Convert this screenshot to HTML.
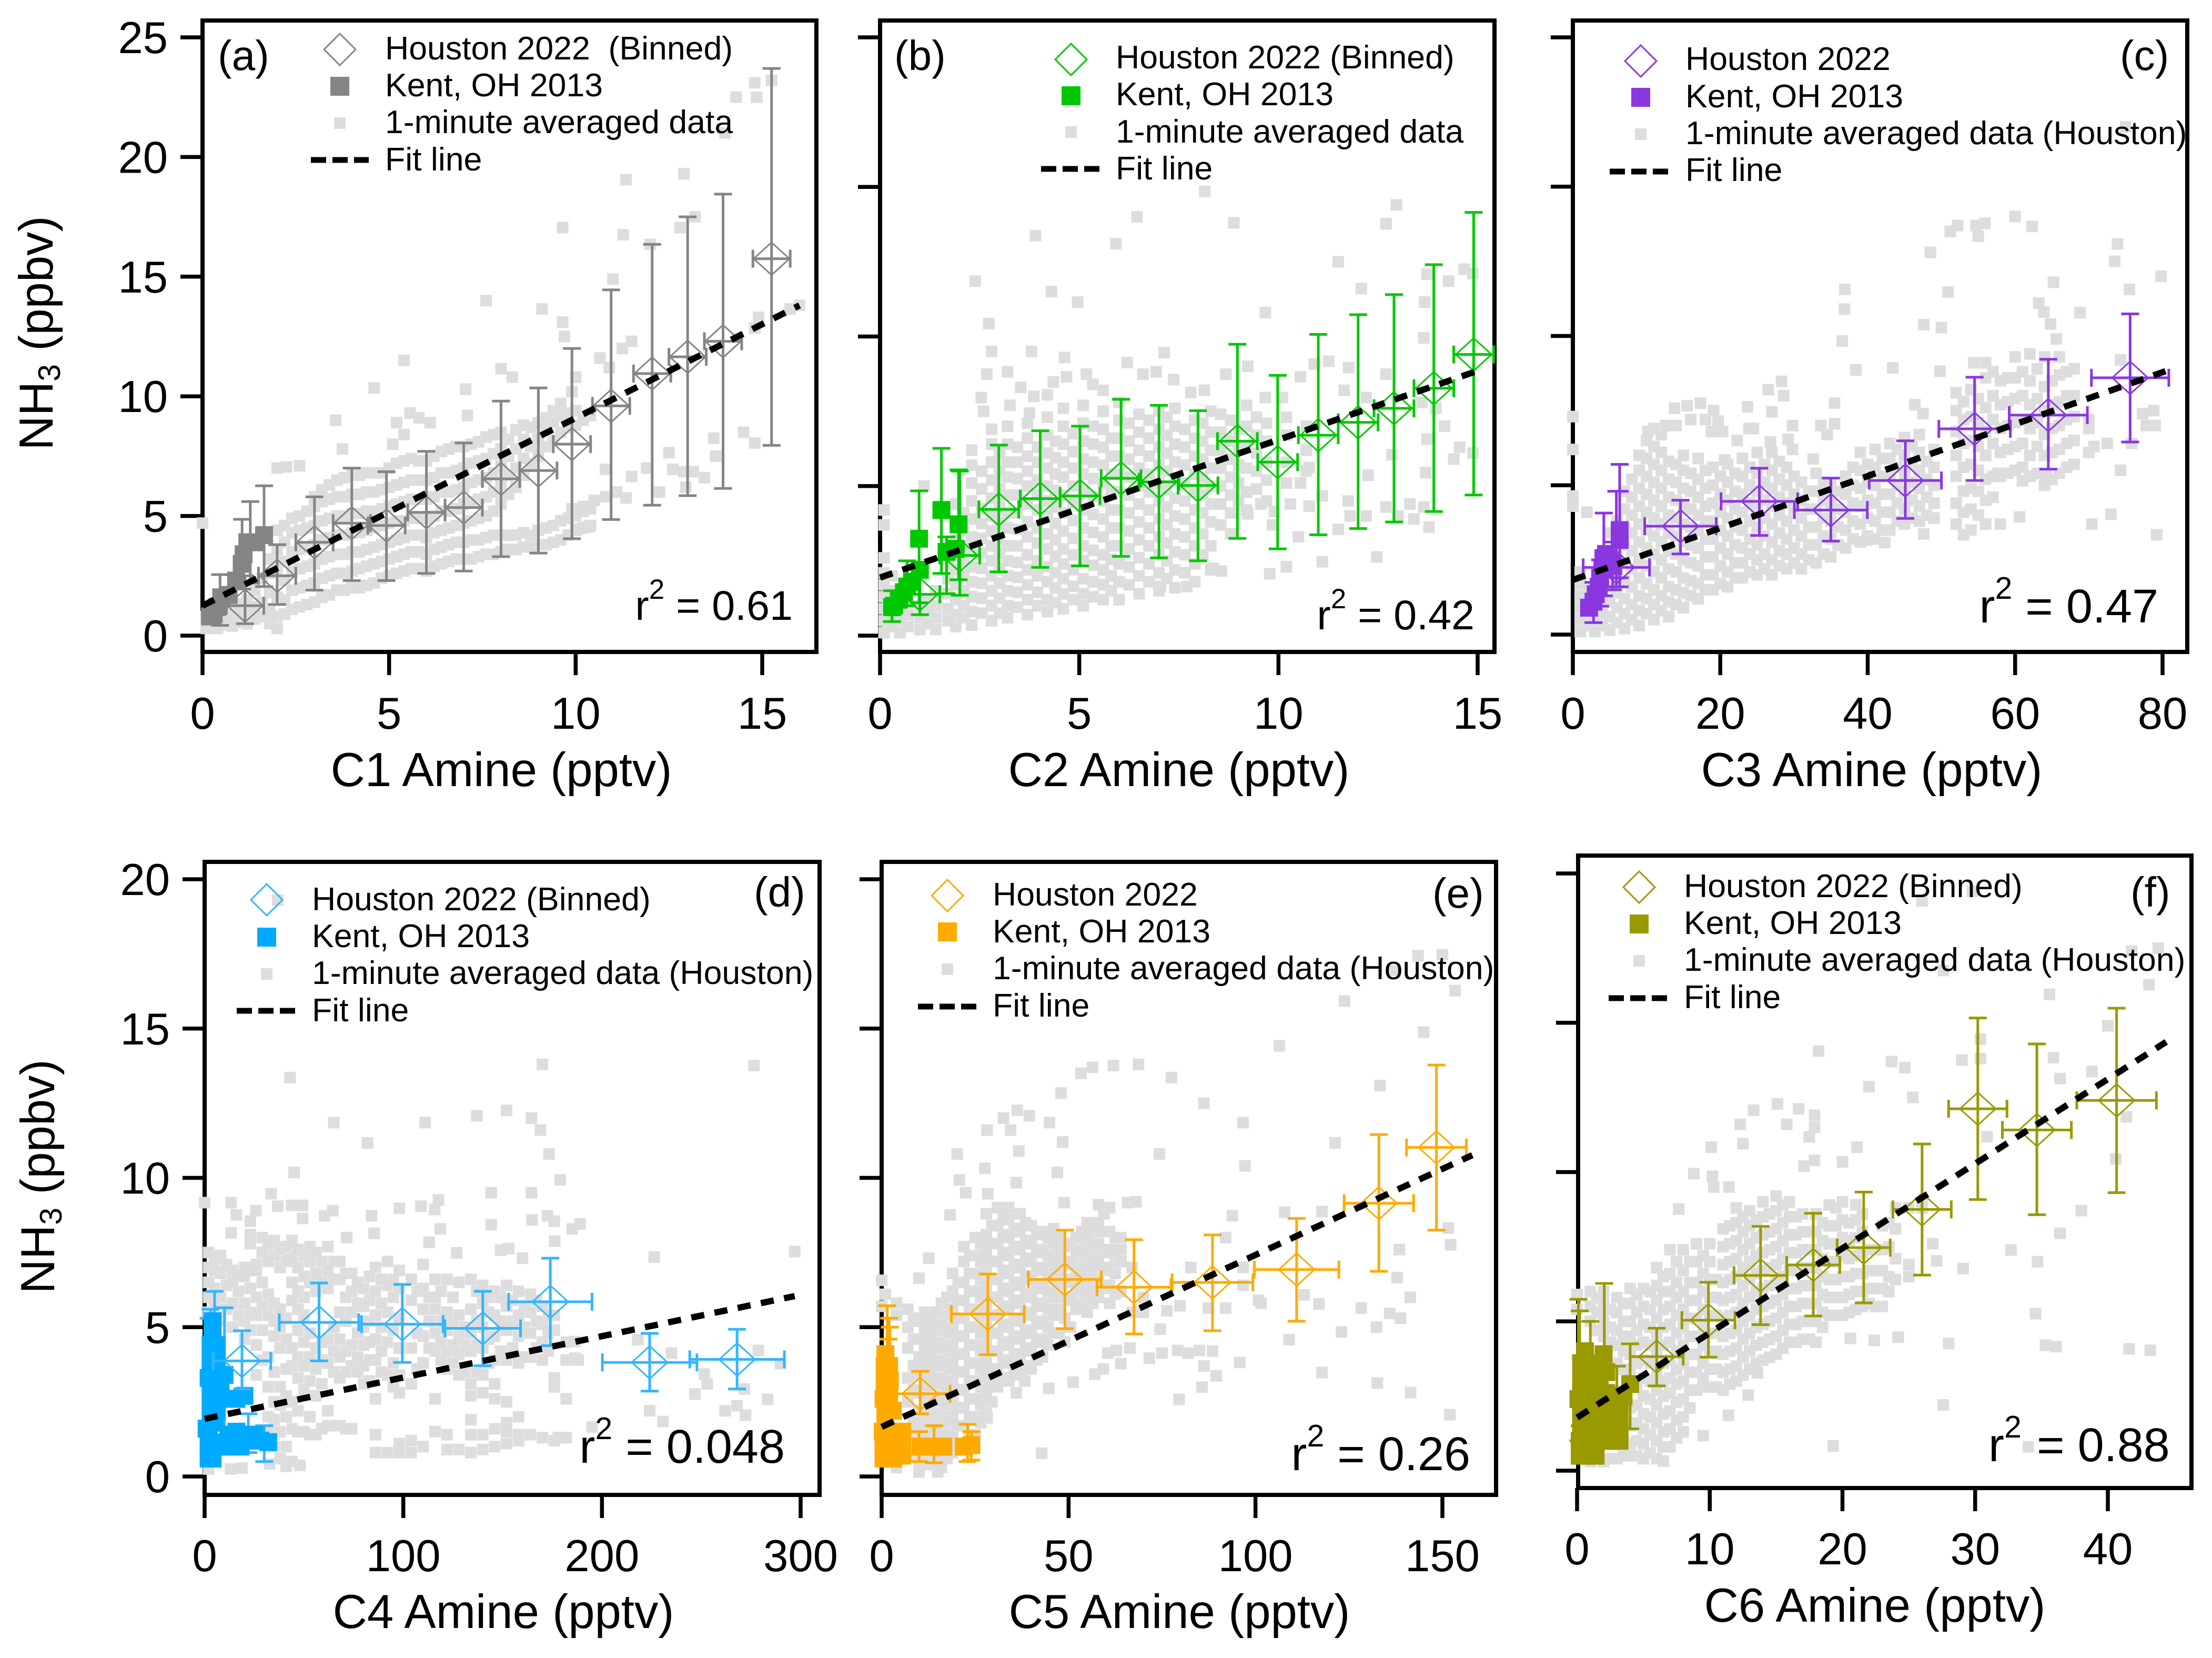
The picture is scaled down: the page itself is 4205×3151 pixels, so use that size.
<!DOCTYPE html>
<html lang="en">
<head>
<meta charset="utf-8">
<title>NH3 versus amines scatter panels</title>
<style>
html,body{margin:0;padding:0;background:#fff}
svg{display:block}
text{font-family:"Liberation Sans",sans-serif;fill:#000;white-space:pre}
.leg{font-size:62.6px}
.ttl{font-size:90.5px}
.lab{font-size:80px}
</style>
</head>
<body>
<svg id="chart" xmlns="http://www.w3.org/2000/svg" width="4205" height="3151" viewBox="0 0 4205 3151">
<rect x="0" y="0" width="4205" height="3151" fill="#fff"/>
<g id="marks"></g>

<g>
<text class="lab" x="414" y="133">(a)</text>
<text class="ttl" x="953" y="1494" text-anchor="middle">C1 Amine (pptv)</text>
<text class="ttl" transform="translate(100,633) rotate(-90)" text-anchor="middle">NH<tspan dy="14" font-size="59">3</tspan><tspan dy="-14"> (ppbv)</tspan></text>
<text font-size="79" x="1507" y="1178" text-anchor="end">r<tspan dy="-40" font-size="53">2</tspan><tspan dy="40"> = 0.61</tspan></text>
<polygon points="646,64 676,94 646,124 616,94" fill="none" stroke="#858585" stroke-width="3"/>
<rect x="628" y="146" width="36" height="36" fill="#858585"/>
<rect x="635" y="223" width="22" height="22" fill="#dddddd"/>
<line x1="591" y1="304" x2="701" y2="304" stroke="#000" stroke-width="11" stroke-dasharray="29 12"/>
<text class="leg" x="732" y="113">Houston 2022  (Binned)</text>
<text class="leg" x="732" y="183">Kent, OH 2013</text>
<text class="leg" x="732" y="253">1-minute averaged data</text>
<text class="leg" x="732" y="324">Fit line</text>
</g>

<g>
<text class="lab" x="1700" y="133">(b)</text>
<text class="ttl" x="2241" y="1494" text-anchor="middle">C2 Amine (pptv)</text>
<text font-size="79" x="2803" y="1196" text-anchor="end">r<tspan dy="-40" font-size="53">2</tspan><tspan dy="40"> = 0.42</tspan></text>
<polygon points="2036,83 2066,113 2036,143 2006,113" fill="none" stroke="#00c800" stroke-width="3"/>
<rect x="2018" y="164" width="36" height="36" fill="#00c800"/>
<rect x="2025" y="240" width="22" height="22" fill="#dddddd"/>
<line x1="1979" y1="321" x2="2091" y2="321" stroke="#000" stroke-width="11" stroke-dasharray="29 12"/>
<text class="leg" x="2121" y="130">Houston 2022 (Binned)</text>
<text class="leg" x="2121" y="200">Kent, OH 2013</text>
<text class="leg" x="2121" y="271">1-minute averaged data</text>
<text class="leg" x="2121" y="341">Fit line</text>
</g>

<g>
<text class="lab" x="4030" y="133">(c)</text>
<text class="ttl" x="3558" y="1494" text-anchor="middle">C3 Amine (pptv)</text>
<text font-size="90" x="4103" y="1183" text-anchor="end">r<tspan dy="-45" font-size="59">2</tspan><tspan dy="45"> = 0.47</tspan></text>
<polygon points="3119,86 3149,116 3119,146 3089,116" fill="none" stroke="#8a37e0" stroke-width="3"/>
<rect x="3101" y="167" width="36" height="36" fill="#8a37e0"/>
<rect x="3108" y="244" width="22" height="22" fill="#dddddd"/>
<line x1="3060" y1="326" x2="3173" y2="326" stroke="#000" stroke-width="11" stroke-dasharray="29 12"/>
<text class="leg" x="3204" y="133">Houston 2022</text>
<text class="leg" x="3204" y="204">Kent, OH 2013</text>
<text class="leg" x="3204" y="274">1-minute averaged data (Houston)</text>
<text class="leg" x="3204" y="344">Fit line</text>
</g>

<g>
<text class="lab" x="1433" y="1723">(d)</text>
<text class="ttl" x="957" y="3094" text-anchor="middle">C4 Amine (pptv)</text>
<text class="ttl" transform="translate(103,2236) rotate(-90)" text-anchor="middle">NH<tspan dy="14" font-size="59">3</tspan><tspan dy="-14"> (ppbv)</tspan></text>
<text font-size="90" x="1492" y="2780" text-anchor="end">r<tspan dy="-45" font-size="59">2</tspan><tspan dy="45"> = 0.048</tspan></text>
<polygon points="507,1680 537,1710 507,1740 477,1710" fill="none" stroke="#33b5ff" stroke-width="3"/>
<rect x="489" y="1763" width="36" height="36" fill="#00aaff"/>
<rect x="496" y="1840" width="22" height="22" fill="#dddddd"/>
<line x1="450" y1="1921" x2="563" y2="1921" stroke="#000" stroke-width="11" stroke-dasharray="29 12"/>
<text class="leg" x="593" y="1730">Houston 2022 (Binned)</text>
<text class="leg" x="593" y="1800">Kent, OH 2013</text>
<text class="leg" x="593" y="1870">1-minute averaged data (Houston)</text>
<text class="leg" x="593" y="1941">Fit line</text>
</g>

<g>
<text class="lab" x="2723" y="1725">(e)</text>
<text class="ttl" x="2242" y="3094" text-anchor="middle">C5 Amine (pptv)</text>
<text font-size="90" x="2795" y="2794" text-anchor="end">r<tspan dy="-45" font-size="59">2</tspan><tspan dy="45"> = 0.26</tspan></text>
<polygon points="1801,1672 1831,1702 1801,1732 1771,1702" fill="none" stroke="#ffaa00" stroke-width="3"/>
<rect x="1783" y="1753" width="36" height="36" fill="#ffaa00"/>
<rect x="1790" y="1831" width="22" height="22" fill="#dddddd"/>
<line x1="1745" y1="1913" x2="1857" y2="1913" stroke="#000" stroke-width="11" stroke-dasharray="29 12"/>
<text class="leg" x="1887" y="1721">Houston 2022</text>
<text class="leg" x="1887" y="1791">Kent, OH 2013</text>
<text class="leg" x="1887" y="1861">1-minute averaged data (Houston)</text>
<text class="leg" x="1887" y="1932">Fit line</text>
</g>

<g>
<text class="lab" x="4050" y="1723">(f)</text>
<text class="ttl" x="3564" y="3082" text-anchor="middle">C6 Amine (pptv)</text>
<text font-size="90" x="3780" y="2777">r<tspan dy="-45" font-size="59">2</tspan><tspan dy="45" x="3872">= 0.88</tspan></text>
<polygon points="3116,1656 3146,1686 3116,1716 3086,1686" fill="none" stroke="#999900" stroke-width="3"/>
<rect x="3098" y="1738" width="36" height="36" fill="#999900"/>
<rect x="3105" y="1815" width="22" height="22" fill="#dddddd"/>
<line x1="3058" y1="1897" x2="3172" y2="1897" stroke="#000" stroke-width="11" stroke-dasharray="29 12"/>
<text class="leg" x="3201" y="1705">Houston 2022 (Binned)</text>
<text class="leg" x="3201" y="1775">Kent, OH 2013</text>
<text class="leg" x="3201" y="1845">1-minute averaged data (Houston)</text>
<text class="leg" x="3201" y="1916">Fit line</text>
</g>
</svg>

<script>
/* ---------- tick values and labels ---------- */
const xTicksA=[0,5,10,15];
const xLabelsA=['0','5','10','15'];
const yTicksA=[0,5,10,15,20,25];
const yLabelsA=['0','5','10','15','20','25'];
const xTicksB=[0,5,10,15];
const xLabelsB=['0','5','10','15'];
const xTicksC=[0,20,40,60,80];
const xLabelsC=['0','20','40','60','80'];
const xTicksD=[0,100,200,300];
const xLabelsD=['0','100','200','300'];
const yTicks20=[0,5,10,15,20];
const yLabelsD=['0','5','10','15','20'];
const xTicksE=[0,50,100,150];
const xLabelsE=['0','50','100','150'];
const xTicksF=[0,10,20,30,40];
const xLabelsF=['0','10','20','30','40'];

/* ---------- gray 1-minute data: each row is [x, y, y, ...] ---------- */
const grayA=[[15.25,23.2],[14.8,23.1],[14.85,22.5],[14.3,22.5],[14,21],[12.9,19.3],[11.35,19.05],[9.65,17.05],[11.27,16.75],[13.2,17.5],[12.8,17.05],[12,16.35],[7.6,14],[9.1,13.65],[11,14.9],[9.65,13.1],[9.7,12.5],[11.5,12.3],[11.25,12],[10.65,11.6],[10.9,11.2],[5.4,11.5],[4.6,10.35],[8,11.15],[8.3,10.8],[7.05,10.3],[7.1,9.2],[10,10.8],[9.9,10.2],[3.57,9],[3.75,7.8],[2,7],[2.25,7.05],[2.6,7.1],[0,4.7],[16,13.8],[15.75,13.65],[14.9,13.3],[14.8,12.85],[14.5,8.5],[14.8,8.05],[13.7,8.25],[13.75,7.5],[12.5,7.65],[11.9,7],[12.6,6.95],[12.9,6.85],[13.15,6.85],[13.45,6.6],[11.5,6.65],[10.8,6.95],[11.35,5.75],[12.25,6],[12.95,6.2],[9.9,5.3],[10.2,5.4],[10.5,5.65],[10.8,5.8],[11.1,6],[10.35,4.55],[10.05,4.45],[5.2,8.9],[5.56,9.3],[5.8,9.1],[6.1,8.9],[5.4,8.4],[5.1,8],
[0.1,.3,.5,.8],[0.4,.3,.6,.9],[0.8,.4,.7,1.2],[1.2,.5,1,1.5],[1.6,.8,1.4,2.4],[2,.3,.8,1.6,2.8,3.6,4.4],[2.4,1.1,1.9,2.7,3.5,4.3,4.9],[2.8,1.3,2.1,2.9,3.7,4.5,5.2],[3.2,1.6,2.4,3.2,4,4.8,5.6,6.1],[3.6,1.9,2.6,3.4,4.2,5,5.8,6.5],[4,2,2.7,3.5,4.3,5.1,5.9,6.7],[4.4,2.1,2.9,3.6,4.4,5.2,6,6.8],[4.8,2.4,3.1,3.8,4.6,5.3,6.1,6.8],[5.2,2.6,3.3,4,4.8,5.5,6.3,7.2],[5.6,2.8,3.5,4.2,4.9,5.7,6.5,7.4],[6,2.7,3.4,4.1,4.9,5.7,6.5,7.3],[6.4,3,3.7,4.4,5.2,6,6.8,7.7],[6.8,3.2,3.9,4.6,5.3,6.1,6.9,7.9],[7.2,3.2,4,4.8,5.6,6.4,7.2,8],[7.6,3.4,4.1,5,5.8,6.6,7.4,8.3],[8,3.5,4.2,5.5,6.3,7.1,7.8,8.5],[8.4,3.6,4.2,6.2,7,7.8,8.6],[8.8,3.7,4.2,7.2,7.9,8.7],[9.2,3.8,4.5,7.9,8.6,9.1],[9.6,4,4.8,8.5,9.2,9.7],[10,4.4,5,8.8,9.4],[10.4,4.6,5.3,9.2]];
const denseA=[[.3,.4,.7],[.6,.45,.75],[1,.55,.95,1.35],[1.4,.7,1.2,1.9],[1.8,.5,1,1.8,2.6,3.2],[2.2,.9,1.5,2.3,3.1,3.9,4.6],[2.6,1.2,2,2.8,3.6,4.4,5],[3,1.4,2.2,3,3.8,4.6,5.4,5.8],[3.4,1.7,2.5,3.3,4.1,4.9,5.7,6.3],[3.8,1.9,2.6,3.4,4.2,5,5.8,6.6],[4.2,2,2.8,3.5,4.3,5.1,5.9,6.7],[4.6,2.2,3,3.7,4.5,5.2,6,6.8],[5,2.5,3.2,3.9,4.7,5.4,6.2,7],[5.4,2.7,3.4,4.1,4.8,5.6,6.4,7.3],[5.8,2.8,3.5,4.2,4.9,5.7,6.5,7.3],[6.2,2.9,3.6,4.3,5,5.8,6.6,7.5],[6.6,3.1,3.8,4.5,5.2,6,6.8,7.8],[7,3.2,3.9,4.7,5.5,6.2,7,7.9],[7.4,3.3,4,4.9,5.7,6.5,7.3,8.1],[7.8,3.4,4.2,5.2,6,6.8,7.6,8.4],[8.2,3.6,4.2,5.9,6.7,7.5,8.2],[8.6,3.7,4.3,6.7,7.4,8.2,8.8],[9,3.8,4.4,7.5,8.2,8.9],[9.4,3.9,4.6,8.2,8.9,9.4],[9.8,4.2,4.9,8.7,9.3],[10.2,4.5,5.2,9]];

const grayB=[[8.15,14.85],[6.45,14],[8.88,13.8],[12.96,14.4],[12.7,13.77],[3.9,13.37],[5.92,13.1],[11.5,12.5],[2.39,11.85],[4.3,11.5],[4.96,11.15],[2.73,10.43],[12.08,11.6],[9.67,10.8],[13.73,12.08],[14.66,12.25],[14.88,12.1],[14.27,11.85],[13.67,11.15],[13.65,9.95],[2.8,9.5],[3.8,9.5],[4.63,9.3],[6.2,9.13],[7.13,9.46],[2.68,8.74],[3.2,8.82],[3.53,8.3],[4.35,8.48],[4.68,8.65],[5.18,8.74],[5.34,8.4],[5.6,8.2],[3.86,8],[4.2,8.05],[2.54,7.96],[2.6,7.5],[3.26,7.7],[3.75,7.44],[6.6,8.74],[6.93,8.82],[7.37,8.56],[7.8,8.13],[8.14,8.2],[8.68,8.74],[9.23,9],[9.67,7.96],[10.1,7.96],[10.55,8.65],[10.9,9.08],[11.26,9.17],[11.76,8.96],[11.65,8.2],[12.7,8.74],[12.2,7.96],[14.17,7],[13.6,7.8],[13.95,7.6],[13.73,6.57],[14.55,6.3],[14.88,6.1],[14.4,5.9],[12.85,6.05],[13.7,5.45],[12.25,5.36],[10.77,5.62],[10.55,5.1],[13.3,4.4],[13.65,4.3],[13.78,3.63],[13.4,3.9],[12.7,4.3],[13,4],[11.75,4.5],[11.8,4],[12.2,4],[11.5,3.55],[12.47,2.63],[11.1,2.47],[10.2,2.3],[9.78,2.07],[10.5,3.3],[11.1,4.67],[10.77,4.33],[10.3,4.4],[9.9,4.15],[9.56,4.4],[9.23,4.07],[9.85,3.7],[8.57,2.16],[8.36,2.25],[7.7,1.64],[7.04,1.64],[1.1,5],
[.1,.1,.5,.9,1.3,1.7,2.1,2.6,3.7,4.2],[.5,.1,.5,.9,1.3],[1,.2,.6,1],[1.4,.2,.6,1,1.5],[1.9,.3,.7,1.2,1.7,2.2,2.7,3.2,3.8,4.4],[2.3,.35,.8,1.3,1.8,2.3,2.8,3.3,3.9,4.5,5.1,5.7,6.2],[2.8,.5,1,1.5,2,2.5,3,3.5,4,4.6,5.2,5.8,6.4,6.9],[3.2,.6,1,1.5,2,2.5,3,3.6,4.1,4.7,5.3,5.8,6.4,7],[3.7,.7,1.2,1.7,2.2,2.7,3.3,3.8,4.4,5,5.5,6,6.6,7.1],[4.2,.8,1.2,1.8,2.3,2.9,3.4,4,4.5,5,5.6,6.1,6.7,7.3],[4.6,.9,1.4,1.9,2.4,2.9,3.5,4.1,4.7,5.3,5.8,6.4,7,7.6],[5.1,1,1.4,1.9,2.5,3,3.6,4.2,4.8,5.4,5.9,6.5,7.1,7.7],[5.6,1.2,1.7,2.2,2.7,3.3,3.9,4.5,5.1,5.7,6.3,6.9,7.5],[6,1.2,1.8,2.4,3,3.6,4.2,4.8,5.4,6,6.6,7.2,7.8],[6.5,1.4,2,2.6,3.2,3.8,4.4,5,5.6,6.2,6.8,7.4],[7,1.5,2.1,2.7,3.3,3.9,4.5,5.1,5.7,6.3,6.9,7.5],[7.4,1.6,2.2,2.8,3.4,4,4.6,5.2,5.8,6.4,7,7.6],[7.9,1.8,2.4,3,3.6,4.2,4.8,5.4,6,6.6,7.2],[8.3,2.2,3,3.8,4.4,5,5.6,6.2,6.8,7.5],[8.8,3.4,4.1,4.7,5.3,5.9,6.5,7.2],[9.2,4.2,4.8,5.6,6.3,7,7.7],[9.7,4.5,5.2,5.8,6.5,7.1],[10.2,5.1,5.8,6.7,7.3],[10.7,5.5,6.2,7]];
const denseB=[[.3,.3,.7,1.1,1.5,2],[.7,.3,.7,1.1],[1.2,.4,.8,1.2],[1.7,.5,.9,1.4,1.9,2.4,2.9],[2.1,.6,1,1.5,2,2.5,3,3.5,4.1],[2.55,.75,1.25,1.75,2.25,2.75,3.25,3.75,4.25,4.9,5.5],[3,.75,1.25,1.75,2.25,2.75,3.25,3.75,4.3,4.9,5.5,6.1],[3.45,.95,1.45,1.95,2.45,3,3.55,4.1,4.7,5.25,5.8,6.3],[3.95,1,1.45,2,2.5,3.1,3.6,4.2,4.7,5.2,5.8,6.3],[4.4,1.1,1.6,2.1,2.65,3.2,3.75,4.3,4.85,5.4,5.95,6.5],[4.85,1.2,1.65,2.2,2.7,3.25,3.85,4.45,5,5.6,6.15,6.75],[5.35,1.3,1.8,2.35,2.85,3.45,4.05,4.65,5.25,5.8,6.4,7],[5.8,1.5,2,2.55,3,3.6,4.2,4.8,5.4,6,6.6],[6.25,1.7,2.3,2.9,3.5,4.1,4.7,5.3,5.9,6.5,7.1],[6.75,1.8,2.4,3,3.6,4.2,4.8,5.4,6,6.6,7.2],[7.2,1.9,2.5,3.1,3.7,4.3,4.9,5.5,6.1,6.7,7.3],[7.65,2.1,2.7,3.3,3.9,4.5,5.1,5.7,6.3,6.9],[8.1,2.7,3.4,4.1,4.7,5.3,5.9,6.5,7.1],[8.55,3.7,4.4,5,5.6,6.2,6.8,7.4],[9,4.5,5.1,5.7,6.3,6.9],[9.45,4.9,5.5,6.1,6.7,7.3]];

const grayC=[[75,17],[60,14],[62.3,13.67],[55.9,13.77],[54.7,13.7],[55,13.34],[52.2,13.7],[51.2,13.5],[48.5,12.8],[73.9,13.08],[73.5,12.5],[79.8,12],[75.5,11.56],[65.2,11.8],[36.9,11.56],[36.85,10.9],[50.9,11.47],[63.2,11.1],[63.9,10.8],[68.8,10.78],[64.8,10.4],[47.6,10.38],[50,10.28],[36.55,9.83],[65.6,9.9],[38.4,8.86],[43.4,8.93],[49.8,8.82],[0,7.3],[0,6.2],[0,4.64],[0,4.3],[1.9,4.1],[28.3,8.48],[26.5,8.2],[28.6,8],[23.7,7.63],[27,7.46],[35.5,7.75],[35.5,7.06],[33.65,7],[34.5,6.7],[32.6,5.88],[46.4,7.7],[47.5,7.4],[10.2,6.8],[11,6.9],[12.6,7],[13.8,7.58],[15.5,7.66],[17.3,7.75],[19.1,7.5],[19.7,7.15],[18.8,6.8],[20.3,6.8],[20.6,5.85],[22.3,6.5],[23.9,6.9],[24.5,6.9],[26.8,6.45],[29.2,6.54],[29.8,7],[29.8,6.2],[14,7],[16,7.2],[18,7.2],[54.4,9.1],[75.8,6.4],[74.3,5.5],[72.5,6.4],[70.7,6.3],[77.3,7.4],[78.8,7.5],[79,7],[77.8,7],[74.3,9.2],[60.6,3.94],[73,4.03],[70.4,3.7],[79.2,3.34],[64.2,5.33],[61,5.15],[57.7,5.4],[53,3.34],[47.6,3.37],[42.3,3.08],[39.9,3.17],
[1,.1,.5,.9,1.3,1.7,2.1],[3,.1,.5,.9],[5,.15,.6,1.1,1.6,2.2,2.8,3.4],[7,.2,.7,1.2,1.8,2.4,3,3.6,4.2,4.8],[9,.3,.8,1.3,1.9,2.5,3.1,3.7,4.3,4.9,5.5,6],[11,.5,1,1.5,2.1,2.7,3.3,3.9,4.5,5.1,5.7,6.3],[13,.6,1.1,1.6,2.2,2.8,3.4,4,4.6,5.2,5.8],[15,.9,1.4,1.9,2.5,3.1,3.7,4.3,4.9,5.5,6],[17,1.2,1.7,2.3,2.9,3.5,4,4.6,5.2,5.9],[19,1.5,2,2.6,3.2,3.8,4.4,5,5.6],[21,1.6,2.1,2.7,3.3,3.9,4.5,5.1,5.7],[23,1.9,2.4,2.9,3.5,4.1,4.7,5.3,5.9],[25,2,2.5,3,3.6,4.2,4.8,5.4,6.1],[27,2,2.5,3.1,3.7,4.3,4.9,5.5,6.1],[29,2.2,2.7,3.2,3.8,4.4,5,5.6],[31,2.2,2.7,3.3,3.9,4.5,5.1],[33,2.4,3,3.6,4.2,4.8,5.4],[35,2.6,3.2,3.8,4.4,5],[37,2.9,3.5,4.1,4.7,5.3],[39,3.1,3.7,4.3,4.9,5.5,6.1],[41,3.2,3.8,4.4,5,5.6,6.2],[43,3.5,4.1,4.7,5.3,5.9,6.4],[45,3.7,4.2,4.8,5.4,6,6.6],[47,3.8,4.3,4.9,5.5,6.1,6.7],[49,3.9,4.4,5,5.6,6.2],[52,3.7,4.4,5.3,6,6.8,7.5,8.1],[54,3.5,4.2,4.9,5.7,6.5,7.3,8.2],[56,3.7,4.5,5.2,6,6.8,7.6,8.6,9.1],[58,3.7,5.3,6.1,6.9,7.7,8.5],[60,5.5,6.3,7.1,7.9,8.6,9.3],[62,5.3,6,6.9,7.7,8.5,9.4],[64,5,6,6.7,7.5,8.3,9.3],[66,5.4,6.2,7,7.8,8.7,9.3],[68,5.7,6.5,7.3,8,8.9],[70,6.1,6.9,7.2]];
const denseC=[[2,.3,.7,1.1,1.5],[4,.3,.7,1.2,1.8],[6,.4,.9,1.4,2,2.6,3.2,3.8],[8,.5,1,1.6,2.2,2.8,3.4,4,4.6,5.2],[10,.7,1.2,1.7,2.3,2.9,3.5,4.1,4.7,5.3,5.9,6.5],[12,.8,1.3,1.9,2.5,3.1,3.7,4.3,4.9,5.5,6.1,6.7],[14,1,1.5,2.1,2.7,3.3,3.9,4.5,5.1,5.7],[16,1.3,1.8,2.4,3,3.6,4.2,4.8,5.4],[18,1.5,2,2.6,3.2,3.8,4.3,4.9,5.5],[20,1.7,2.3,2.9,3.5,4.1,4.7,5.3],[22,1.9,2.4,3,3.6,4.2,4.8,5.4],[24,2.1,2.7,3.2,3.8,4.4,5,5.6],[26,2.2,2.7,3.3,3.9,4.5,5.1,5.7],[28,2.3,2.8,3.4,4,4.6,5.2,5.8],[30,2.4,2.9,3.5,4.1,4.7,5.3],[32,2.5,3,3.6,4.2,4.8],[34,2.7,3.3,3.9,4.5,5.1],[36,3,3.6,4.2,4.8],[38,3.2,3.8,4.4,5,5.6],[40,3.3,3.9,4.5,5.1,5.7],[42,3.5,4.1,4.7,5.3,5.9],[44,3.8,4.4,5,5.6,6.2],[46,3.9,4.5,5.1,5.7,6.3],[48,4,4.6,5.2,5.8],[53,4.1,4.8,5.6,6.4,7.2,7.8],[55,4,4.8,5.5,6.3,7.1,7.9],[57,4.6,5.3,6.4,7.2,8,8.8],[59,5.4,6.2,7,7.8,8.6],[61,5.6,6.4,7.2,8,8.8],[63,5.4,6.3,7.1,7.9,8.9],[65,5.2,6.1,6.9,7.7,8.5],[67,5.6,6.4,7.2,8,8.8]];

const grayD=[[36.8,19.3],[43,13.36],[170,13.8],[276.5,13.76],[152,12.26],[137,12.08],[164.5,12],[169,11.6],[65,11.85],[111,11.85],[82,11.17],[45,10.18],[173.4,10.8],[179,9.93],[0,9.17],[13.3,9.17],[144.3,9.5],[164.5,9.5],[117.7,9.26],[33.5,9.47],[98,8.98],[108.9,9.05],[115.8,8.94],[64.5,8.9],[60.4,8.73],[84,8.73],[16,8.76],[23,8.55],[25.8,8.9],[36.8,9.05],[43.8,9.08],[49.3,9.08],[49.3,8.64],[13.3,8.16],[85.3,8.14],[71.5,8],[113,7.84],[144.3,8.43],[118.6,8.29],[164.8,8.59],[172.6,8.73],[176,8.55],[185,8.29],[189,8.46],[176.2,7.88],[297,7.53],[226.3,7.35],[126.9,7.49],[149,7.58],[153,7.63],[160,7.31],[218,4.58],[230.7,1.84],[224,2.2],[235,4.13],[251.5,3.43],[253,3.1],[246.8,2.76],[262,2.2],[268,2.37],[272.3,2.05],[271.7,2.93],[278.7,4.22],[289.8,3.78],[283.4,2.58],[178,1.3],[195,1.66],[186.4,4.52],[186.4,3.96],[48,.37],[41,.34],[32.7,.42],[18.8,.28],[13,.25],[2,.25],
[2,5.5,6,6.5,7,7.5],[8,5.2,6,6.8,7.4],[14,6.5,6.9,5.8,5],[20,6.7,7,5.8,5.2,4.6],[26,7.1,6.9,6,5.4,4.4,3.4],[32,7.8,7.2,6.1,5.4,4,3,2,1.5],[38,7.6,7,5.6,5,4.3,3,2.4,1.5,.6],[44,7.9,7.3,6.5,5.9,4.3,3.7,2.5,1.6,.5],[50,7.4,6.7,6,5.4,4.5,3.7,2.9,1.5],[56,7.5,6.8,6.2,4.3,3.6,2.7,1.4],[62,7.7,6.9,6.3,4.6,3.8,2.2,1.7],[68,7.2,6.6,5.5,4.6,4,3.3,1.7],[74,6.8,6.2,5.5,4.4,3.7,1.6],[80,6.3,5.7,5,4.4,3.7,3.1],[86,7,6.2,5.4,4.6,3.9,2.6,1.4,.8],[92,7.2,6.4,5.5,4.5,3.4,.8],[98,6.9,6.3,5.3,4.3,3.4,2.8,1.1,.8],[104,6.6,5.9,4.3,3.1,.8,1.2],[110,7.1,6.3,5.6,4.7,3.8,1],[116,6.6,6,5.6,4.8,4.2,2.6,1.5],[122,6.6,5.5,4.9,4.2,3.6,1.4,.9],[128,6.5,5.4,4.7,4.1,3.4,.9],[134,6.6,5.6,4.8,4.2,3.1,2.7,1.9,1.4,.8],[140,6.4,5.8,5,4.3,3.4,2.8,1.4,.9],[146,6.2,5.4,4.7,3.9,3.1,2.6,1.6,1],[152,6.4,5.7,4.9,3.9,2.5,1.8,1.5,1.1],[158,6.2,5.4,4.7,3.8,2,1.4,1.2],[164,6.1,5.5,4.8,4,1.4],[170,5.7,5.1,4.5,3.9,1.3],[176,5.4,4.9,3.3,3,1.2],[182,4.5,3.9,2.6,1.3],[188,3.9]];
const denseD=[[5,5.8,6.3,6.9,7.3],[11,5.6,6.4,7.1],[17,5.4,6.2,6.7],[23,4.9,5.5,6.3,6.9,7.8,8.1],[29,3.9,4.9,5.7,6.5,7.5,8],[35,1,1.9,2.5,3.5,4.7,5.2,5.8,7.4,7.9],[41,1,2,2.7,3.6,4.6,5.3,7.2,7.7],[47,1.5,2.2,3.3,4,4.9,5.6,6.2,7,7.6],[53,1.4,2,3.2,4,4.8,6.5,7.2,7.7],[59,1.6,3.1,3.9,4.5,6.5,7.2],[65,1.7,3.5,4.2,5,6.6,7.2],[71,1.6,3.5,4.2,5.2,6,6.8],[77,3.5,4,4.8,5.8,6.5],[83,3.2,3.9,4.5,5.2,5.9,6.7],[89,3.5,4.2,5,5.8,6.6],[95,3,3.8,4.9,6,6.6],[107,3.6,4.8,6.2],[113,4.3,5.2,6],[119,3.9,4.5,5.2,6.2],[125,3.8,4.4,5.1,6],[131,3.5,4.4,5],[137,3.5,4.4,5.2,6.2],[143,3.8,4.6,5.5,6],[149,4.2,5.2,6],[155,4.3,5.2,5.9],[161,4,5,5.7],[167,4.3,5.2,5.9],[173,4.2,4.8,5.4]];

const grayE=[[150,17.47],[143.5,17.44],[137,16.94],[153.4,16.27],[123.8,15.92],[145,14.88],[106.4,14.42],[68.7,13.8],[62,13.76],[56.4,13.7],[53.3,13.5],[77.5,13.36],[133.3,13.09],[48,12.84],[86.2,12.5],[39.5,12.08],[36.3,12.26],[32.6,12],[44.9,11.85],[96.7,11.85],[28.2,11.6],[34.5,11.6],[121.3,11.17],[20.2,10.8],[36.7,10.9],[48.4,11.2],[74.3,10.8],[97.2,10.4],[27.6,10.32],[47,10.18],[20.8,9.93],[36,9.84],[22.5,9.5],[28.4,9.47],[65.8,9.17],[68,9.2],[48.8,9.17],[18.3,8.76],[93.8,8.73],[107.8,8.85],[117.8,8.87],[151.6,8.32],[152.2,7.76],[138.5,7.6],[137.9,6.66],[141.4,6],[128.3,5.64],[135.9,5.46],[138.8,5.3],[132.4,5],[123,4.84],[109,4.58],[95.8,3.82],[117.8,3.48],[132.6,3.13],[141.5,2.81],[152,2.07],[79.6,2.58],[85.7,2.99],[89.5,3.37],[42.8,.78],[28.2,1.96],[117,5.78],[113,6.08],[100.8,5.9],[101.5,5.8],[92,8],[82.7,7],[96.7,7],[96.7,6.4],[92,5.64],[87.4,5.64],[76.3,5.55],[79.8,5.72],[74.5,4.93],[12.6,7.31],[10,6.64],[0,6.57],[85,4.22],[82,4.13],[79.2,4.22],[75,4.13],[71.6,3.96],[86.2,3.7],[88.5,4.2],[62.8,4.22],[60.5,4.13],[66.4,4.3],[64,3.78],[59.3,3.6],[57,3.43],[51.2,3.16],[44.7,2.95],[38.3,3.2],[36,2.8],[30,3.1],[0,5.7],[1,6.1],[4,5.8],[15,.15],[10,.15],
[4,5.4,.3],[7,1.5,2.5,3.3,4.3,5,5.6],[10,.4,1,1.6,2.2,2.8,3.4,4,4.6,5.2],[13,.4,1,1.6,2.2,2.8,3.4,4,4.6,5.2],[16,.3,.9,1.5,2.1,2.7,3.3,3.9,4.5,5.1,5.8],[19,.8,1.4,2,2.6,3.2,3.8,4.4,5,5.6,6.2,6.8],[22,1.1,1.7,2.3,2.9,3.5,4.1,4.7,5.3,5.9,6.5,7.2,7.7],[25,1.4,2,2.6,3.2,3.8,4.4,5,5.6,6.2,6.8,7.4,8],[28,2.1,2.7,3.3,3.9,4.5,5.1,5.7,6.3,6.9,7.5,8.1,8.8],[31,3,3.6,4.2,4.8,5.4,6,6.6,7.2,7.8,8.4,9],[34,3.2,3.8,4.4,5,5.6,6.2,6.8,7.4,8,8.6,9],[37,3.4,4,4.6,5.2,5.8,6.4,7,7.6,8.2,8.8],[40,3.6,4.2,4.8,5.4,6,6.6,7.2,7.8,8.4],[43,4,4.6,5.2,5.8,6.4,7,7.6,8.2],[46,4.8,5.4,6,6.6,7.2,7.8,8.3],[49,4.5,5.3,6,6.6,7.2,7.8],[52,5.6,6.2,6.8,7.4,8],[55,5.5,6.1,6.7,7.3,7.9,8.5],[58,6,6.6,7.2,7.8,8.5,9.1],[61,5.8,6.4,7,7.6,8.2,9],[64,6.2,7.2,7.6,8],[67,7,5.5],[70,6,5.5]];
const denseE=[[8.5,.7,1.3,1.9,2.9,3.7,4.6,5.3],[11.5,.7,1.3,1.9,2.5,3.1,3.7,4.3,4.9,5.5],[14.5,.7,1.3,1.9,2.5,3.1,3.7,4.3,4.9,5.5],[17.5,.6,1.2,1.8,2.4,3,3.6,4.2,4.8,5.4,6],[20.5,1,1.7,2.3,2.9,3.5,4.1,4.7,5.3,5.9,6.5],[23.5,1.4,2,2.6,3.2,3.8,4.4,5,5.6,6.2,6.8,7.4],[26.5,1.8,2.4,3,3.6,4.2,4.8,5.4,6,6.6,7.2,7.8],[29.5,2.5,3,3.6,4.2,4.8,5.4,6,6.6,7.2,7.8,8.4],[32.5,3.3,3.9,4.5,5.1,5.7,6.3,6.9,7.5,8.1,8.7],[35.5,3.5,4.1,4.7,5.3,5.9,6.5,7.1,7.7,8.3],[38.5,3.7,4.3,4.9,5.5,6.1,6.7,7.3,7.9,8.5],[41.5,3.9,4.5,5.1,5.7,6.3,6.9,7.5,8.1],[44.5,4.4,5,5.6,6.2,6.8,7.4,8],[47.5,4.8,5.6,6.3,6.9,7.5,8.1],[50.5,5,5.9,6.5,7.1,7.7],[53.5,5.8,6.4,7,7.6,8.2],[56.5,5.8,6.4,7,7.6,8.2],[59.5,6.3,6.9,7.5,8.2,8.8],[62.5,6.1,6.8,7.4,8]];

const grayF=[[26,19.08],[29.8,19.4],[27.6,16.75],[41.8,17.4],[43.8,17.5],[43.1,16.27],[35.6,15.95],[30.4,14.45],[30.4,13.8],[29,13.75],[40,14.9],[35.9,13.83],[36.4,13.13],[38.8,13.37],[18.2,14.05],[23.7,13.7],[24.7,13.5],[22,12.86],[25.3,12.5],[41.4,11.85],[30.9,11.18],[40.6,10.44],[15.1,12.28],[13.3,12.07],[16.7,12.12],[12.3,11.6],[15.8,11.6],[17.9,11.9],[17.9,11.5],[17.5,11.18],[10.1,10.83],[12.5,10.95],[21.1,10.83],[20,10.34],[17.9,10.39],[17.1,10.2],[8.8,9.95],[10.2,9.86],[10.3,9.5],[11.45,9.5],[38,8.71],[36.4,7.95],[32.7,7.39],[29.1,6.77],[34.7,7],[26.8,7.6],[27.1,7.03],[7.66,8.76],[34.55,5.26],[35.3,4.2],[36.1,4.15],[41.6,4.08],[43.2,4.03],[28,4.26],[24.2,4.47],[22.4,4.36],[20.6,4.43],[27.6,2.2],[19.3,.83],[34,.8],[11.4,1.85],[12.9,2.53],[9.5,1.17],[6.5,.32],[13.6,3.27],
[0,5.9,5.4],[1,.3,5,5.5,6],[2,.3,4.5,5,5.6,6],[3,.4,.9,1.4,3.6,4.2,4.7,5.3,5.8],[4,.5,.9,1.5,2.1,3.3,3.9,4.5,5,5.6,6.1],[5,.4,.9,1.4,1.9,2.5,3.1,3.7,4.3,4.9,5.5,6.1],[6,.4,1,1.6,2.2,2.7,3.3,3.9,4.5,5.1,5.7,6.2,6.8],[7,.8,1.4,2,2.6,3.1,3.7,4.3,4.9,5.5,6,6.6,7.4],[8,1.3,1.8,2.4,3,3.6,4.2,4.8,5.4,6,6.7,7.4],[9,2.7,3.3,3.9,4.5,5.1,5.7,6.3,7,7.6],[10,2.8,3.4,4,4.6,5.2,5.8,6.4,7,7.6],[11,2.7,3.3,3.9,4.5,5.1,5.7,6.3,6.9,7.5,8.1],[12,3,3.5,4.1,4.7,5.3,5.9,6.5,7.1,7.7,8.3,8.8],[13,3.4,4,4.6,5.2,5.8,6.4,7,7.6,8.2,8.7],[14,3.7,4.3,4.9,5.5,6.1,6.7,7.3,7.9,8.5,9],[15,3.9,4.5,5.1,5.7,6.3,6.9,7.5,8.1,8.7,9.2],[16,4.3,4.9,5.5,6.1,6.7,7.3,7.9,8.5,9],[17,4.4,5,5.6,6.2,6.8,7.4,8,8.6],[18,4.3,5,5.6,6.2,6.8,7.4,8,8.6],[19,5.2,5.8,6.4,7,7.6,8.2,8.9],[20,5.2,5.8,6.5,7.2,7.8,8.4,9],[21,5.4,6,6.6,7.2,7.8,8.4,8.9],[22,5.6,6.1,6.7,7.4],[23,5.5,6.1,6.7,7.4,8.2],[24,6.4,7.1,8.1,8.8],[25,6.5,6.9,8.8],[26,8.8,9]];
const denseF=[[1.5,.5,.9,4.7,5.3,5.8],[2.5,.4,.9,4.3,4.8,5.4],[3.5,.5,1,1.6,3.4,4,4.5,5,5.6],[4.5,.5,1,1.6,2.2,2.8,3.6,4.2,4.7,5.3,5.9],[5.5,.6,1.2,1.8,2.4,3,3.6,4.2,4.8,5.4,6],[6.5,.8,1.3,1.9,2.5,3,3.6,4.2,4.8,5.4,6,6.5],[7.5,1.1,1.7,2.3,2.9,3.4,4,4.6,5.2,5.8,6.3,7],[8.5,2.1,2.7,3.3,3.9,4.5,5.1,5.7,6.3,7],[9.5,2.8,3.1,3.6,4.2,4.8,5.4,6,6.6,7.2],[10.5,2.8,3.4,4,4.6,5.2,5.8,6.4],[11.5,2.9,3.4,4,4.6,5.2,5.8,6.4,7,7.6,8.2],[12.5,3.2,3.8,4.4,5,5.6,6.2,6.8,7.4,8,8.5],[13.5,3.6,4.2,4.8,5.4,6,6.6,7.2,7.8,8.4],[14.5,3.8,4.4,5,5.6,6.2,6.8,7.4,8,8.6],[15.5,4.1,4.7,5.3,5.9,6.5,7.1,7.7,8.3,8.9],[16.5,4.3,4.9,5.5,6.1,6.7,7.3,7.9,8.5],[17.5,4.4,5,5.6,6.2,6.8,7.4,8],[18.5,4.8,5.3,5.9,6.5,7.1,7.7,8.3],[19.5,5.2,5.8,6.4,7,7.6,8.2,8.8],[20.5,5.3,5.9,6.5,7.1,7.7,8.3],[21.5,5.5,6,6.6,7.3,8,8.6],[22.5,5.5,6.1,6.7,7.4],[23.5,6,6.5,7.5,8.3]];

/* ---------- Kent, OH 2013 squares ---------- */
const kentXA=[.2,.25,.3,.4,.5,.7,.9,1.05,1.1,1.2,1.4,1.65];
const kentYA=[.8,1,.9,1.2,1.6,1.7,2.3,3,3.4,3.9,3.9,4.2];
const kentErrXA=[.47,1.06,1.28,1.65];
const kentErrHiA=[2.55,4.86,5.6,6.26];
const kentErrLoA=[.43,1.95,2.2,2.05];

const kentXB=[.3,.35,.47,.6,.68,.8,1,.98,1.67,1.9,1.54,1.97];
const kentYB=[.95,1,1.2,1.45,1.64,1.8,2.2,3.24,2.8,2.9,4.2,3.72];
const kentErrXB=[.3,.68,.98,1.54,1.97,1.67];
const kentErrHiB=[1.5,2.5,4.84,6.26,5.54,3.3];
const kentErrLoB=[.47,1,1.1,2.08,1.87,1.4];

const kentXC=[2.2,2.8,3.1,3.5,3.7,4,4.15,4.5,5.2,5.46,6.35,6.35];
const kentYC=[.9,1.1,1.35,1.6,1.9,2.2,2.56,2.7,2.4,2.3,3.5,3.17];
const kentErrXC=[2.8,3.7,4.2,5.4,6.35,6.35];
const kentErrHiC=[1.75,2.5,4.07,3.1,5.7,4.8];
const kentErrLoC=[.4,.95,1.3,1.5,1.6,1.9];

const kentXD=[2,4,2,4,8,2,1,5,3,6,3,6,2,5,8,12,16,20,3,6,3,6,4,4,12,16,20,24,28,32,12,18,25,10];
const kentYD=[.6,.6,1,1.1,1,1.5,1.6,1.8,2.2,2.2,2.8,2.8,3.3,3.4,3,2.6,2.6,2.7,3.9,3.8,4.4,4.4,4.9,5.2,1.4,1.5,1.3,1.2,1.2,1.15,1,1,1.4,3.4];
const kentErrXD=[2,3,5,10,22,30];
const kentErrHiD=[5.3,5.6,6.2,5.65,2.1,1.7];
const kentErrLoD=[.4,.8,1,1.4,.8,.5];

const kentXE=[.5,1.5,3,5,5.5,.5,2,4,5.5,.3,2,4,5.5,1,3,.5,2,.8,2.2,.8,2,1,10.4,13,16,16.5,22,24];
const kentYE=[.6,.6,.6,.7,.7,1,1,1,1,1.5,1.5,1.5,1.5,2,2.2,2.6,2.7,3.1,3.2,3.7,3.7,4.1,1,1,1,1,1,1.05];
const kentErrXE=[1.5,2,2.2,1.8,1,10,14,23,24];
const kentErrHiE=[5.72,5.3,5,4.6,4.2,1.5,1.7,1.75,1.5];
const kentErrLoE=[1,1,.8,.6,.5,.5,.46,.5,.55];

const kentXF=[.2,.8,1.4,.2,.8,1.4,2,2.6,.3,1,1.8,2.6,3.2,.3,1,1.7,2.4,3,.1,.8,1.5,2.2,.3,1,1.7,4,3.5,.3,1,2,.6,3.2,3.2,3.2,2.6,2.2];
const kentYF=[.5,.5,.5,1,1,1,1,1,1.5,1.5,1.5,1.5,1.5,2,2,2,2,2,2.4,2.5,2.6,2.6,3,3,3,2.9,2.5,3.6,3.6,3.9,4,1,2,2.5,2.5,3.3];
const kentErrXF=[.1,.2,1,2.05,4,3];
const kentErrHiF=[5.74,5.35,5,6.27,4.25,3.5];
const kentErrLoF=[1,1.5,.8,1.5,1.4,.76];

/* ---------- Houston 2022 binned diamonds ---------- */
const binXA=[1.14,2,3,4,4.93,6,7,8,9,9.9,10.95,12.05,13,13.95,15.25];
const binYA=[1.25,2.5,3.9,4.7,4.6,5.15,5.35,6.55,6.9,8,9.6,10.95,11.65,12.3,15.75];
const binHiA=[2.5,3.8,5.8,7,6.85,7.7,8.05,9.8,10.35,12,14.45,16.35,17.5,18.45,23.7];
const binLoA=[.5,1.3,1.9,2.3,2.3,2.6,2.7,3.3,3.45,4.05,4.85,5.45,5.85,6.15,7.95];
const binXErrA=[.5,.5,.5,.5,.5,.5,.5,.5,.5,.5,.5,.5,.5,.5,.5];

const binXB=[1,2,2.98,4.02,5.02,6.05,7,7.98,8.97,9.98,11,12,12.9,13.9,14.9];
const binYB=[1.38,2.68,4.22,4.58,4.67,5.26,5.14,5.02,6.5,5.8,6.7,7.13,7.6,8.27,9.4];
const binHiB=[2.4,5.5,6.37,6.85,7,7.9,7.7,7.52,9.74,8.7,10.07,10.73,11.4,12.4,14.15];
const binLoB=[.7,1.35,2.13,2.28,2.33,2.65,2.6,2.5,3.25,2.9,3.37,3.58,3.8,4.15,4.7];
const binXErrB=[.5,.5,.5,.5,.5,.5,.5,.5,.5,.5,.5,.5,.5,.5,.5];

const binXC=[5.9,14.6,25.3,35,45.1,54.5,64.5,75.6];
const binYC=[2.25,3.63,4.46,4.17,5.16,6.89,7.35,8.6];
const binHiC=[4.8,4.5,5.57,5.24,6.49,8.62,9.22,10.74];
const binLoC=[1.6,2.7,3.32,3.13,3.89,5.16,5.54,6.45];
const binXErrC=[4.5,4.85,5.2,4.95,4.9,4.85,5.3,5.25];

const binXD=[18.8,57.6,99.5,140,174,224,268];
const binYD=[3.87,5.16,5.1,4.96,5.85,3.82,3.92];
const binHiD=[4.88,6.48,6.43,6.2,7.31,4.79,4.93];
const binLoD=[2.93,3.87,3.82,3.71,4.38,2.86,2.93];
const binXErrD=[14.5,20,20.5,19,21,23.8,23.8];

const binXE=[10.3,28.4,49,67.5,88.5,111,133,148.4];
const binYE=[2.77,5.44,6.6,6.34,6.5,6.93,9.15,11.02];
const binHiE=[3.52,6.78,8.25,7.93,8.09,8.64,11.45,13.78];
const binLoE=[2.1,4.08,4.95,4.77,4.88,5.2,6.87,8.25];
const binXErrE=[8,9.75,9.75,9.9,10.8,11.3,9.3,8];

const binXF=[6,9.9,13.83,17.8,21.6,26,30.2,34.65,40.66];
const binYF=[3.82,5.04,6.54,6.89,7.47,8.75,12.12,11.41,12.4];
const binHiF=[4.77,6.31,8.18,8.62,9.33,10.94,15.16,14.29,15.49];
const binLoF=[2.84,3.8,4.89,5.18,5.62,6.55,9.08,8.57,9.31];
const binXErrF=[2,2,2,2,2,2.2,2.2,2.6,3];

/* ---------- fit lines ---------- */
const fitXA=[0,16];
const fitYA=[1.25,13.8];
const fitXB=[0,14.93];
const fitYB=[1.94,8.82];
const fitXC=[0,80.4];
const fitYC=[1.83,8.82];
const fitXD=[0,297];
const fitYD=[1.93,6.04];
const fitXE=[0,158];
const fitYE=[1.66,10.76];
const fitXF=[0,44.4];
const fitYF=[1.78,14.36];

/* ---------- panel layout ---------- */
const panels=[
{id:'a',l:385,t:39,r:1552,b:1239,xr:[385,1449],xd:[0,15],yr:[1208,71],yd:[0,25],labelY:1385,color:'#858585',kentColor:'#858585',xt:xTicksA,xl:xLabelsA,yt:yTicksA,yl:yLabelsA,gray:grayA.concat(denseA),kx:kentXA,ky:kentYA,ex:kentErrXA,eh:kentErrHiA,el:kentErrLoA,bx:binXA,by:binYA,bh:binHiA,bl:binLoA,be:binXErrA,fx:fitXA,fy:fitYA},
{id:'b',l:1673,t:39,r:2841,b:1239,xr:[1673,2809],xd:[0,15],yr:[1208,71],yd:[0,20],labelY:1385,color:'#00c800',kentColor:'#00c800',xt:xTicksB,xl:xLabelsB,yt:yTicks20,yl:null,gray:grayB.concat(denseB),kx:kentXB,ky:kentYB,ex:kentErrXB,eh:kentErrHiB,el:kentErrLoB,bx:binXB,by:binYB,bh:binHiB,bl:binLoB,be:binXErrB,fx:fitXB,fy:fitYB},
{id:'c',l:2990,t:39,r:4158,b:1239,xr:[2990,4111],xd:[0,80],yr:[1206,71],yd:[0,20],labelY:1385,color:'#8a37e0',kentColor:'#8a37e0',xt:xTicksC,xl:xLabelsC,yt:yTicks20,yl:null,gray:grayC.concat(denseC),kx:kentXC,ky:kentYC,ex:kentErrXC,eh:kentErrHiC,el:kentErrLoC,bx:binXC,by:binYC,bh:binHiC,bl:binLoC,be:binXErrC,fx:fitXC,fy:fitYC},
{id:'d',l:389,t:1638,r:1558,b:2841,xr:[389,1522],xd:[0,300],yr:[2806,1671],yd:[0,20],labelY:2986,color:'#33b5ff',kentColor:'#00aaff',xt:xTicksD,xl:xLabelsD,yt:yTicks20,yl:yLabelsD,gray:grayD.concat(denseD),kx:kentXD,ky:kentYD,ex:kentErrXD,eh:kentErrHiD,el:kentErrLoD,bx:binXD,by:binYD,bh:binHiD,bl:binLoD,be:binXErrD,fx:fitXD,fy:fitYD},
{id:'e',l:1676,t:1638,r:2844,b:2841,xr:[1676,2742],xd:[0,150],yr:[2806,1671],yd:[0,20],labelY:2986,color:'#ffaa00',kentColor:'#ffaa00',xt:xTicksE,xl:xLabelsE,yt:yTicks20,yl:null,gray:grayE.concat(denseE),kx:kentXE,ky:kentYE,ex:kentErrXE,eh:kentErrHiE,el:kentErrLoE,bx:binXE,by:binYE,bh:binHiE,bl:binLoE,be:binXErrE,fx:fitXE,fy:fitYE},
{id:'f',l:3000,t:1626,r:4166,b:2828,xr:[2998,4007],xd:[0,40],yr:[2795,1660],yd:[0,20],labelY:2973,color:'#999900',kentColor:'#999900',xt:xTicksF,xl:xLabelsF,yt:yTicks20,yl:null,gray:grayF.concat(denseF),kx:kentXF,ky:kentYF,ex:kentErrXF,eh:kentErrHiF,el:kentErrLoF,bx:binXF,by:binYF,bh:binHiF,bl:binLoF,be:binXErrF,fx:fitXF,fy:fitYF}
];

const NS='http://www.w3.org/2000/svg';
const host=document.getElementById('marks');
function make(parent,tag,attrs){
  const el=document.createElementNS(NS,tag);
  for(const k in attrs){el.setAttribute(k,attrs[k]);}
  parent.appendChild(el);
  return el;
}
function scale(domain,range){
  return v=>range[0]+(v-domain[0])*(range[1]-range[0])/(domain[1]-domain[0]);
}
function segment(parent,x1,y1,x2,y2,color,width,name){
  const s=make(parent,'line',{x1:x1,y1:y1,x2:x2,y2:y2,stroke:color,'stroke-width':width});
  
  
  return s;
}

panels.forEach(p=>{
  const X=scale(p.xd,p.xr);
  const Y=scale(p.yd,p.yr);
  const g=make(host,'g',{});
  
  

  const frame=make(g,'rect',{x:p.l,y:p.t,width:p.r-p.l,height:p.b-p.t,fill:'none',stroke:'#000','stroke-width':8});
  
  

  p.xt.forEach((v,i)=>{
    segment(g,X(v),p.b,X(v),p.b+44,'#000',7.5,'panel-'+p.id+'-x-tick');
    const t=make(g,'text',{x:X(v),y:p.labelY,'text-anchor':'middle','font-size':85});
    
    
    t.textContent=p.xl[i];
  });
  p.yt.forEach((v,i)=>{
    segment(g,p.l-42,Y(v),p.l,Y(v),'#000',7.5,'panel-'+p.id+'-y-tick');
    if(p.yl){
      const t=make(g,'text',{x:p.l-66,y:Y(v)+30,'text-anchor':'end','font-size':85});
      
      
      t.textContent=p.yl[i];
    }
  });

  p.gray.forEach(row=>{
    for(let i=1;i<row.length;i++){
      const r=make(g,'rect',{x:X(row[0])-11,y:Y(row[i])-11,width:22,height:22,fill:'#dddddd'});
      
      
    }
  });

  p.ex.forEach((v,i)=>{
    segment(g,X(v),Y(p.el[i]),X(v),Y(p.eh[i]),p.color,5,'kent-error-bar');
    segment(g,X(v)-17,Y(p.eh[i]),X(v)+17,Y(p.eh[i]),p.color,5,'kent-error-cap');
    segment(g,X(v)-17,Y(p.el[i]),X(v)+17,Y(p.el[i]),p.color,5,'kent-error-cap');
  });
  p.kx.forEach((v,i)=>{
    const r=make(g,'rect',{x:X(v)-17,y:Y(p.ky[i])-17,width:34,height:34,fill:p.kentColor});
    
    
  });

  p.bx.forEach((v,i)=>{
    const cx=X(v),cy=Y(p.by[i]);
    const xa=X(v-p.be[i]),xb=X(v+p.be[i]),yh=Y(p.bh[i]),yl=Y(p.bl[i]);
    segment(g,cx,yl,cx,yh,p.color,5,'binned-y-error-bar');
    segment(g,cx-17,yh,cx+17,yh,p.color,5,'binned-y-error-cap');
    segment(g,cx-17,yl,cx+17,yl,p.color,5,'binned-y-error-cap');
    segment(g,xa,cy,xb,cy,p.color,5,'binned-x-error-bar');
    segment(g,xa,cy-17,xa,cy+17,p.color,5,'binned-x-error-cap');
    segment(g,xb,cy-17,xb,cy+17,p.color,5,'binned-x-error-cap');
    const d=make(g,'polygon',{points:[cx,cy-31,cx+34,cy,cx,cy+31,cx-34,cy].join(' '),fill:'none',stroke:p.color,'stroke-width':3});
    
    
  });

  const fit=make(g,'line',{x1:X(p.fx[0]),y1:Y(p.fy[0]),x2:X(p.fx[1]),y2:Y(p.fy[1]),stroke:'#000','stroke-width':12,'stroke-dasharray':'25 20'});
  
  
});
</script>
</body>
</html>
